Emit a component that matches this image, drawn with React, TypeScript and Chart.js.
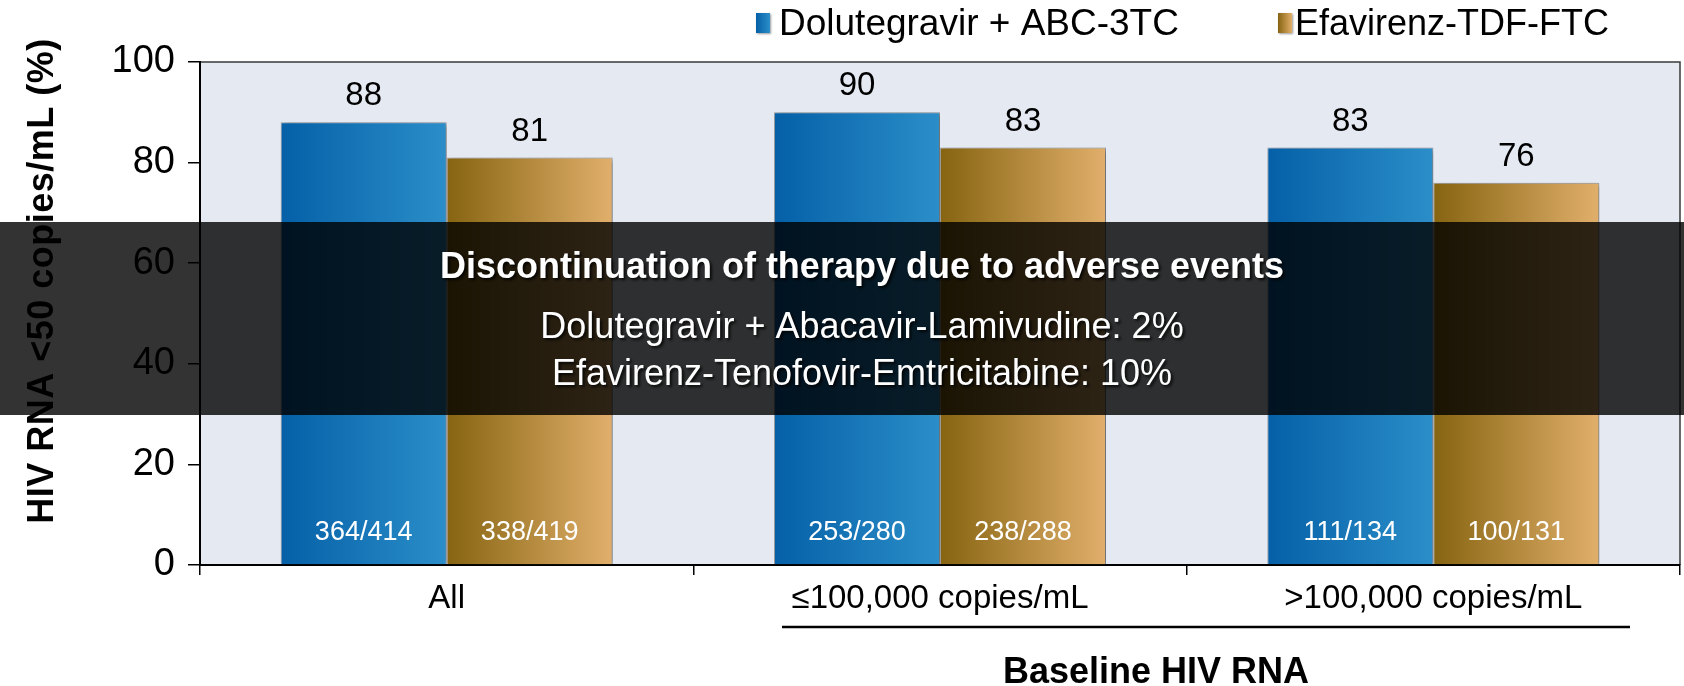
import React, { useEffect, useRef } from "react";
import { Chart, registerables } from "chart.js";
Chart.register(...registerables);

const categories = ["All", "≤100,000 copies/mL", ">100,000 copies/mL"];
const seriesNames = ["Dolutegravir + ABC-3TC", "Efavirenz-TDF-FTC"];
const dtgValues = [88, 90, 83];
const efvValues = [81, 83, 76];
const dtgCounts = ["364/414", "253/280", "111/134"];
const efvCounts = ["338/419", "238/288", "100/131"];
const yTickStep = 20;
const yMin = 0;
const yMax = 100;
const yTitle = "HIV RNA <50 copies/mL (%)";
const xTitle = "Baseline HIV RNA";
const bandTitle = "Discontinuation of therapy due to adverse events";
const bandLines = [
  "Dolutegravir + Abacavir-Lamivudine: 2%",
  "Efavirenz-Tenofovir-Emtricitabine: 10%",
];

const FONT = '"Liberation Sans", Arial, Helvetica, sans-serif';
const BLUE = ["#0560a7", "#2b8ec9"];
const GOLD = ["#866410", "#e1af6b"];
const CAT_PCT = 0.673;

function barGradient(ctx: any, stops: string[]) {
  const chart = ctx.chart;
  const xs = chart.scales && chart.scales.x;
  if (!xs || ctx.dataIndex == null) return stops[0];
  const center = xs.getPixelForValue(ctx.dataIndex);
  const catW = (xs.right - xs.left) / categories.length;
  const w = (catW * CAT_PCT) / 2;
  const left = ctx.datasetIndex === 0 ? center - w : center;
  if (!Number.isFinite(left) || !Number.isFinite(w) || w <= 0) return stops[0];
  const g = chart.ctx.createLinearGradient(left, 0, left + w, 0);
  g.addColorStop(0, stops[0]);
  g.addColorStop(1, stops[1]);
  return g;
}

const decorPlugin = {
  id: "decor",
  beforeDraw(chart: any) {
    const { ctx, chartArea: a } = chart;
    ctx.save();
    ctx.fillStyle = "#ffffff";
    ctx.fillRect(0, 0, chart.width, chart.height);
    ctx.fillStyle = "#e5e9f1";
    ctx.fillRect(a.left, a.top, a.right - a.left, a.bottom - a.top);
    ctx.strokeStyle = "#3a3a3a";
    ctx.lineWidth = 1.5;
    ctx.beginPath();
    ctx.moveTo(a.left, a.top);
    ctx.lineTo(a.right, a.top);
    ctx.lineTo(a.right, a.bottom);
    ctx.stroke();
    ctx.restore();
  },
  beforeDatasetsDraw(chart: any) {
    const ctx = chart.ctx;
    ctx.save();
    ctx.shadowColor = "rgba(0,0,0,0.45)";
    ctx.shadowBlur = 5;
    ctx.shadowOffsetX = 2;
    ctx.shadowOffsetY = 1;
  },
  afterDatasetsDraw(chart: any) {
    const ctx = chart.ctx;
    ctx.restore();
    const counts = [dtgCounts, efvCounts];
    ctx.save();
    chart.data.datasets.forEach((ds: any, di: number) => {
      const meta = chart.getDatasetMeta(di);
      meta.data.forEach((el: any, i: number) => {
        ctx.textAlign = "center";
        ctx.textBaseline = "alphabetic";
        ctx.fillStyle = "#000";
        ctx.font = `33px ${FONT}`;
        ctx.fillText(String(ds.data[i]), el.x, el.y - 17);
        ctx.fillStyle = "#fff";
        ctx.font = `27px ${FONT}`;
        ctx.fillText(counts[di][i], el.x, el.base - 24);
      });
    });
    ctx.restore();
  },
  afterDraw(chart: any) {
    const ctx = chart.ctx;
    ctx.save();
    const items = [
      { x: 756, tx: 779, c: BLUE, t: seriesNames[0], s: 37 },
      { x: 1278, tx: 1295, c: GOLD, t: seriesNames[1], s: 36 },
    ];
    items.forEach((it) => {
      const g = ctx.createLinearGradient(it.x, 0, it.x + 14, 0);
      g.addColorStop(0, it.c[0]);
      g.addColorStop(1, it.c[1]);
      ctx.shadowColor = "rgba(0,0,0,0.4)";
      ctx.shadowBlur = 2;
      ctx.shadowOffsetX = 1;
      ctx.shadowOffsetY = 1;
      ctx.fillStyle = g;
      ctx.fillRect(it.x, 13, 14, 20);
      ctx.shadowColor = "transparent";
      ctx.fillStyle = "#000";
      ctx.font = `${it.s}px ${FONT}`;
      ctx.textAlign = "left";
      ctx.textBaseline = "alphabetic";
      ctx.fillText(it.t, it.tx, 35);
    });
    ctx.save();
    ctx.translate(53, 281);
    ctx.rotate(-Math.PI / 2);
    ctx.font = `bold 36px ${FONT}`;
    (ctx as any).letterSpacing = "0.5px";
    ctx.fillStyle = "#000";
    ctx.textAlign = "center";
    ctx.textBaseline = "alphabetic";
    ctx.fillText(yTitle, 0, 0);
    ctx.restore();
    ctx.strokeStyle = "#000";
    ctx.lineWidth = 2.5;
    ctx.beginPath();
    ctx.moveTo(782, 627);
    ctx.lineTo(1630, 627);
    ctx.stroke();
    ctx.fillStyle = "#000";
    ctx.font = `bold 36px ${FONT}`;
    ctx.textAlign = "center";
    ctx.fillText(xTitle, 1156, 683);
    ctx.fillStyle = "rgba(0,0,0,0.8)";
    ctx.fillRect(0, 222, chart.width, 193);
    ctx.shadowColor = "rgba(0,0,0,0.85)";
    ctx.shadowBlur = 3;
    ctx.shadowOffsetX = 2;
    ctx.shadowOffsetY = 2;
    ctx.fillStyle = "#fff";
    ctx.textAlign = "center";
    ctx.font = `bold 36px ${FONT}`;
    ctx.fillText(bandTitle, 862, 278);
    ctx.font = `36px ${FONT}`;
    ctx.fillText(bandLines[0], 862, 338);
    ctx.fillText(bandLines[1], 862, 385);
    ctx.restore();
  },
};

export default function App() {
  const ref = useRef<HTMLCanvasElement | null>(null);
  useEffect(() => {
    document.body.style.margin = "0";
    if (!ref.current) return;
    const chart = new Chart(ref.current, {
      type: "bar",
      data: {
        labels: categories,
        datasets: [
          {
            label: seriesNames[0],
            data: dtgValues,
            backgroundColor: (c: any) => barGradient(c, BLUE),
            borderColor: "rgba(0,0,0,0.3)",
            borderWidth: 1,
            categoryPercentage: CAT_PCT,
            barPercentage: 1,
          },
          {
            label: seriesNames[1],
            data: efvValues,
            backgroundColor: (c: any) => barGradient(c, GOLD),
            borderColor: "rgba(0,0,0,0.3)",
            borderWidth: 1,
            categoryPercentage: CAT_PCT,
            barPercentage: 1,
          },
        ],
      },
      options: {
        responsive: false,
        animation: false,
        layout: { padding: { top: 62, right: 4, left: 0, bottom: 0 } },
        plugins: {
          legend: { display: false },
          title: { display: false },
          tooltip: { enabled: false },
        },
        scales: {
          x: {
            type: "category",
            offset: true,
            grid: {
              display: true,
              drawOnChartArea: false,
              drawTicks: true,
              tickLength: 10,
              color: "#000",
              lineWidth: 1.5,
              offset: true,
            },
            border: { display: true, color: "#000", width: 2 },
            ticks: {
              font: { size: 33, family: FONT },
              color: "#000",
              padding: 4,
              maxRotation: 0,
              autoSkip: false,
            },
            afterFit: (s: any) => {
              s.height = 121;
            },
          },
          y: {
            min: yMin,
            max: yMax,
            ticks: {
              stepSize: yTickStep,
              font: { size: 38, family: FONT },
              color: "#000",
              padding: 13,
            },
            grid: {
              display: true,
              drawOnChartArea: false,
              drawTicks: true,
              tickLength: 12,
              color: "#000",
              lineWidth: 1.5,
            },
            border: { display: true, color: "#000", width: 2 },
            afterFit: (s: any) => {
              s.width = 200;
            },
          },
        },
      } as any,
      plugins: [decorPlugin],
    });
    return () => chart.destroy();
  }, []);
  return (
    <canvas
      ref={ref}
      width={1684}
      height={686}
      style={{ display: "block", width: 1684, height: 686 }}
    />
  );
}
